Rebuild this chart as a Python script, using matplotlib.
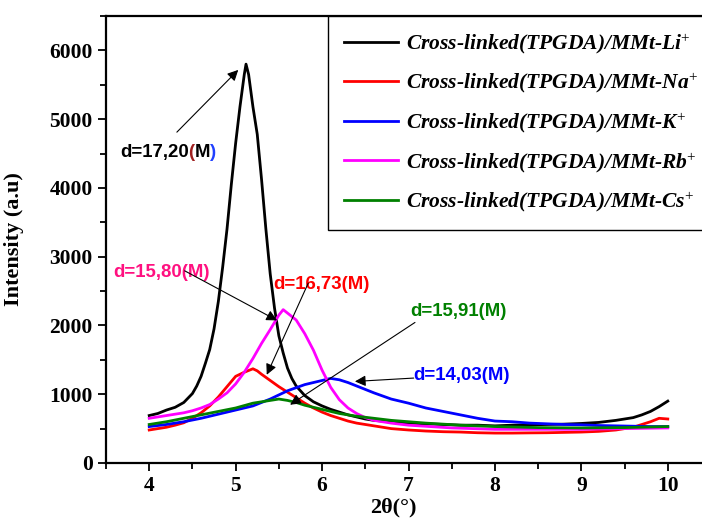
import numpy as np
import matplotlib
matplotlib.use("Agg")
import matplotlib.pyplot as plt
from matplotlib.ticker import MultipleLocator

plt.rcParams['mathtext.fontset'] = 'custom'
plt.rcParams['mathtext.rm'] = 'Liberation Serif'
plt.rcParams['mathtext.it'] = 'Liberation Serif:italic'

# XRD patterns (2theta in degrees, intensity in a.u.)
li_x = [4.0, 4.1, 4.2, 4.3, 4.4, 4.5, 4.55, 4.6, 4.65, 4.7, 4.75, 4.8, 4.85, 4.9, 4.95,
        5.0, 5.05, 5.1, 5.12, 5.15, 5.2, 5.25, 5.3, 5.35, 5.4, 5.45, 5.5, 5.55, 5.6,
        5.65, 5.7, 5.8, 5.9, 6.0, 6.1, 6.2, 6.3, 6.4, 6.5, 6.6, 6.8, 7.0, 7.2, 7.4,
        7.6, 7.8, 8.0, 8.2, 8.4, 8.6, 8.8, 9.0, 9.2, 9.4, 9.5, 9.6, 9.7, 9.8, 9.9, 10.0]
li_y = [690, 720, 770, 810, 880, 1010, 1120, 1260, 1450, 1650, 1950, 2350, 2850, 3400, 4050,
        4650, 5180, 5650, 5800, 5650, 5180, 4780, 4120, 3400, 2750, 2250, 1850, 1600, 1380,
        1230, 1120, 980, 890, 830, 780, 740, 700, 670, 640, 620, 600, 580, 570, 560,
        550, 550, 540, 550, 555, 560, 565, 575, 590, 620, 640, 660, 700, 750, 820, 900]

na_x = [4.0, 4.1, 4.2, 4.3, 4.4, 4.5, 4.6, 4.7, 4.8, 4.9, 5.0, 5.1, 5.2, 5.25, 5.3, 5.4,
        5.5, 5.6, 5.7, 5.8, 5.9, 6.0, 6.1, 6.2, 6.3, 6.4, 6.6, 6.8, 7.0, 7.2, 7.4, 7.6,
        7.8, 8.0, 8.2, 8.4, 8.6, 8.8, 9.0, 9.2, 9.4, 9.6, 9.8, 9.9, 10.0]
na_y = [480, 500, 520, 550, 585, 650, 730, 830, 960, 1110, 1260, 1320, 1370, 1340, 1290, 1200,
        1110, 1030, 950, 870, 800, 740, 690, 650, 610, 580, 540, 500, 480, 465, 455, 450,
        440, 435, 435, 438, 440, 445, 450, 460, 480, 520, 600, 650, 640]

k_x = [4.0, 4.2, 4.4, 4.6, 4.8, 5.0, 5.2, 5.4, 5.6, 5.8, 6.0, 6.1, 6.2, 6.3, 6.4, 6.5,
       6.6, 6.8, 7.0, 7.2, 7.4, 7.6, 7.8, 8.0, 8.2, 8.4, 8.6, 8.8, 9.0, 9.2, 9.4, 9.6,
       9.8, 10.0]
k_y = [530, 560, 600, 650, 710, 770, 830, 930, 1050, 1140, 1200, 1230, 1210, 1170, 1120, 1070,
       1020, 930, 870, 800, 750, 700, 650, 610, 600, 580, 570, 560, 555, 545, 540, 535,
       530, 530]

rb_x = [4.0, 4.1, 4.2, 4.3, 4.4, 4.5, 4.6, 4.7, 4.8, 4.9, 5.0, 5.1, 5.2, 5.3, 5.4, 5.5,
        5.55, 5.6, 5.7, 5.8, 5.9, 6.0, 6.1, 6.2, 6.3, 6.4, 6.5, 6.6, 6.8, 7.0, 7.5, 8.0,
        8.5, 9.0, 9.5, 10.0]
rb_y = [650, 670, 690, 710, 730, 760, 800, 850, 930, 1020, 1150, 1320, 1520, 1740, 1940, 2150,
        2230, 2180, 2080, 1880, 1640, 1350, 1100, 920, 800, 720, 660, 620, 580, 550, 510, 490,
        490, 490, 500, 510]

cs_x = [4.0, 4.2, 4.4, 4.6, 4.8, 5.0, 5.2, 5.4, 5.5, 5.6, 5.7, 5.8, 6.0, 6.2, 6.4, 6.6,
        6.8, 7.0, 7.2, 7.4, 7.6, 7.8, 8.0, 8.5, 9.0, 9.5, 10.0]
cs_y = [560, 600, 650, 700, 750, 800, 870, 910, 930, 910, 880, 840, 780, 720, 680, 650,
        620, 600, 580, 565, 550, 540, 530, 515, 510, 515, 530]

labels = [r"Cross-linked(TPGDA)/MMt-Li$^{+}$",
          r"Cross-linked(TPGDA)/MMt-Na$^{+}$",
          r"Cross-linked(TPGDA)/MMt-K$^{+}$",
          r"Cross-linked(TPGDA)/MMt-Rb$^{+}$",
          r"Cross-linked(TPGDA)/MMt-Cs$^{+}$"]
colors = ["black", "#ff0000", "#0000ff", "#ff00ff", "#008000"]

# d-spacing notes: text, colour, text position, arrow start, arrow tip
notes = [("d=15,80(M)", "#ff1080", (3.58, 2776), (4.41, 2795), (5.48, 2073)),
         ("d=16,73(M)", "#ff0000", (5.44, 2592), (5.84, 2616), (5.36, 1283)),
         ("d=15,91(M)", "#008000", (7.02, 2203), (7.075, 2044), (5.63, 847)),
         ("d=14,03(M)", "#0000ff", (7.06, 1269), (7.06, 1235), (6.38, 1186))]

fig = plt.figure(figsize=(7.02, 5.18), dpi=100)
ax = fig.add_axes([106 / 702, 55 / 518, 605 / 702, 447 / 518])

series = [(li_x, li_y), (na_x, na_y), (k_x, k_y), (rb_x, rb_y), (cs_x, cs_y)]
for (xs, ys), lab, c in zip(series, labels, colors):
    ax.plot(xs, ys, color=c, lw=2.0, label=lab)

ax.set_xlim(3.5, 10.5)
ax.set_ylim(0, 6500)
ax.xaxis.set_minor_locator(MultipleLocator(0.5))
ax.yaxis.set_major_locator(MultipleLocator(1000))
ax.yaxis.set_minor_locator(MultipleLocator(500))
ax.set_xticks(np.arange(4, 11, 1))
ax.tick_params(which='major', direction='out', length=6, width=1.3)
ax.tick_params(which='minor', direction='out', length=4, width=1.3)
for lab in ax.get_xticklabels() + ax.get_yticklabels():
    lab.set_family('Liberation Serif')
    lab.set_weight('bold')
    lab.set_size(15.5)
for s in ax.spines.values():
    s.set_linewidth(1.6)

ax.set_xlabel("2θ(°)", family='Liberation Serif', weight='bold', size=16)
ax.xaxis.set_label_coords(0.475, -0.078)
ax.set_ylabel("Intensity (a.u)", family='Liberation Serif', weight='bold', size=16)
ax.yaxis.set_label_coords(-0.135, 0.5)

leg = ax.legend(loc='upper left', bbox_to_anchor=(328 / 702, 502 / 518),
                bbox_transform=fig.transFigure, borderaxespad=0, fancybox=False,
                edgecolor='black', framealpha=1, handlelength=2.55, handletextpad=0.33,
                labelspacing=0.72, borderpad=0.72,
                prop={'family': 'Liberation Serif', 'weight': 'bold', 'style': 'italic', 'size': 15.5})
leg.get_frame().set_linewidth(1.0)

afont = dict(family='Liberation Sans', weight='bold', size=13.4)

# Li note with coloured brackets
t = ax.text(3.66, 4515, "d=17,20", color='black', va='center', **afont)
t = ax.annotate("(", xycoords=t, xy=(1, 0), va='bottom', color='#a02020', **afont)
t = ax.annotate("M", xycoords=t, xy=(1, 0), va='bottom', color='black', **afont)
t = ax.annotate(")", xycoords=t, xy=(1, 0), va='bottom', color='#2040ff', **afont)
ax.annotate("", xy=(5.03, 5716), xytext=(4.32, 4811),
            arrowprops=dict(arrowstyle='-|>', color='black', lw=0.8, mutation_scale=16,
                            shrinkA=0, shrinkB=0))

for txt, c, pos, start, tip in notes:
    ax.text(pos[0], pos[1], txt, color=c, va='center', **afont)
    ax.annotate("", xy=tip, xytext=start,
                arrowprops=dict(arrowstyle='-|>', color='black', lw=0.8, mutation_scale=16,
                                shrinkA=0, shrinkB=0))

fig.savefig("out.png", dpi=100)
